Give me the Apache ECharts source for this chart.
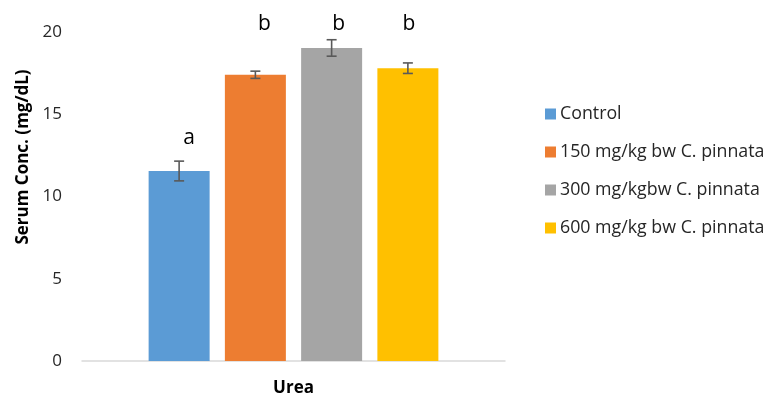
<!DOCTYPE html>
<html>
<head>
<meta charset="utf-8">
<script src="https://cdn.jsdelivr.net/npm/echarts@6/dist/echarts.min.js"></script>
<style>html,body{margin:0;padding:0;background:#fff;}#c{width:765px;height:397px;}</style>
</head>
<body>
<div id="c"></div>
<script>
var categories = ['Urea'];
var seriesNames = ['Control', '150 mg/kg bw C. pinnata', '300 mg/kgbw C. pinnata', '600 mg/kg bw C. pinnata'];
var means = [11.55, 17.4, 19.03, 17.8];
var errors = [0.6, 0.22, 0.5, 0.32];
var sigLetters = ['a', 'b', 'b', 'b'];
var letterLevels = [13.55, 20.5, 20.5, 20.5];
var yTicks = [0, 5, 10, 15, 20];
var colors = ['#5B9BD5', '#ED7D31', '#A5A5A5', '#FFC000'];

var FONT = 'Open Sans';
var BAR_W = 61, BAR_GAP = 15.25;

var chart = echarts.init(document.getElementById('c'), null, {renderer: 'canvas'});

var series = seriesNames.map(function (n, i) {
  return {
    name: n, type: 'bar', data: [means[i]], barWidth: BAR_W, barGap: '25%',
    itemStyle: {color: colors[i]}, z: 2
  };
});

var errData = means.map(function (m, i) { return [0, m, errors[i], i, letterLevels[i]]; });
series.push({
  type: 'custom', name: '_err', z: 5, silent: true,
  encode: {x: 0, y: 1},
  data: errData,
  clip: false,
  renderItem: function (params, api) {
    var i = api.value(3);
    var off = (i - 1.5) * (BAR_W + BAR_GAP);
    var hi = api.coord([0, api.value(1) + api.value(2)]);
    var lo = api.coord([0, api.value(1) - api.value(2)]);
    var lt = api.coord([0, api.value(4)]);
    var x = hi[0] + off;
    var st = {stroke: '#595959', lineWidth: 1.6};
    return {
      type: 'group',
      children: [
        {type: 'line', shape: {x1: x, y1: hi[1], x2: x, y2: lo[1]}, style: st},
        {type: 'line', shape: {x1: x - 5, y1: hi[1], x2: x + 5, y2: hi[1]}, style: st},
        {type: 'line', shape: {x1: x - 5, y1: lo[1], x2: x + 5, y2: lo[1]}, style: st},
        {type: 'text', x: x + (i === 0 ? 10 : (i === 1 ? 9 : (i === 2 ? 7 : 1))), y: lt[1],
         style: {text: sigLetters[i], fill: '#000', font: '21px "' + FONT + '"', align: 'center', verticalAlign: 'middle'}}
      ]
    };
  }
});

chart.setOption({
  animation: false,
  backgroundColor: '#fff',
  grid: {left: 82, right: 260, top: 32, bottom: 35, containLabel: false},
  legend: {
    orient: 'vertical', left: 540, top: 100, itemWidth: 11, itemHeight: 11, itemGap: 20,
    data: seriesNames,
    icon: 'rect',
    textStyle: {fontFamily: FONT, fontSize: 17.8, color: '#262626', padding: [0, 0, 0, -1]},
    itemStyle: {borderWidth: 0}
  },
  xAxis: {
    type: 'category', data: categories,
    axisLine: {lineStyle: {color: '#D9D9D9', width: 1.5}},
    axisTick: {show: false},
    axisLabel: {fontFamily: FONT, fontSize: 17, fontWeight: 'bold', color: '#000', margin: 19}
  },
  yAxis: {
    type: 'value', min: yTicks[0], max: yTicks[yTicks.length - 1], interval: 5,
    axisLine: {show: false}, axisTick: {show: false}, splitLine: {show: false},
    axisLabel: {fontFamily: FONT, fontSize: 17, color: '#262626', margin: 20}
  },
  graphic: [{
    type: 'text', x: 23, y: 157, rotation: Math.PI / 2,
    style: {text: 'Serum Conc. (mg/dL)', font: 'bold 17px "' + FONT + '"', fill: '#000', align: 'center', verticalAlign: 'middle'}
  }],
  series: series
});
</script>
</body>
</html>
